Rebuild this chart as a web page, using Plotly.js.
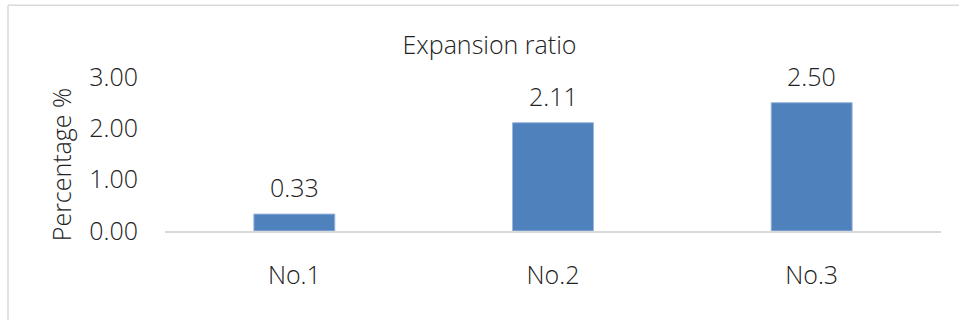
<!DOCTYPE html>
<html>
<head>
<meta charset="utf-8">
<script src="https://cdn.plot.ly/plotly-3.0.1.min.js"></script>
<style>
  html, body { margin: 0; padding: 0; background: #fff; }
  #chart { width: 959px; height: 320px; }
</style>
</head>
<body>
<div id="chart"></div>
<script>
// Expansion ratio per sample
const categories = ['No.1', 'No.2', 'No.3'];
const ratios = [0.33, 2.11, 2.50];
const yTicks = [0, 1, 2, 3];
const yTickLabels = ['0.00', '1.00', '2.00', '3.00'];

const W = 959, H = 320;
const plotLeft = 165, plotRight = 941;
const plotTop = 77, plotBottom = 230.6;
const plotW = plotRight - plotLeft;
const plotH = plotBottom - plotTop;

// pixel -> paper coordinates for the frame lines
const px = v => (v - plotLeft) / plotW;
const py = v => (plotBottom - v) / plotH;

const FONT = 'Open Sans, Noto Sans, sans-serif';
const TXT = '#222222';
const FS = 25;

const trace = {
  type: 'bar',
  x: categories,
  y: ratios,
  marker: { color: '#4F81BD', line: { color: '#9db7dc', width: 1 } },
  hoverinfo: 'skip'
};

// value labels above each bar
const valueLabels = categories.map((c, i) => ({
  x: c, y: ratios[i], xref: 'x', yref: 'y',
  text: ratios[i].toFixed(2),
  showarrow: false, yanchor: 'middle', yshift: 27,
  font: { family: FONT, size: FS, color: TXT, weight: 300 }
}));

const layout = {
  width: W, height: H,
  paper_bgcolor: '#fff', plot_bgcolor: '#fff',
  margin: { l: plotLeft, r: W - plotRight, t: plotTop, b: H - plotBottom, pad: 0 },
  showlegend: false,
  bargap: 0.687,
  title: {
    text: 'Expansion ratio',
    font: { family: FONT, size: FS, color: TXT, weight: 300 },
    x: 489.5 / W, xref: 'container', xanchor: 'center',
    y: 1 - 45 / H, yref: 'container', yanchor: 'middle'
  },
  xaxis: {
    type: 'category',
    showline: true, linecolor: '#d9d9d9', linewidth: 1.5,
    showgrid: false, zeroline: false, ticks: '',
    ticklabelstandoff: 21,
    tickfont: { family: FONT, size: FS, color: TXT, weight: 300 }
  },
  yaxis: {
    range: [0, 3],
    tickmode: 'array', tickvals: yTicks, ticktext: yTickLabels,
    showline: false, showgrid: false, zeroline: false, ticks: '',
    ticklabelstandoff: 26,
    tickfont: { family: FONT, size: FS, color: TXT, weight: 300 }
  },
  annotations: valueLabels.concat([{
    text: 'Percentage %',
    xref: 'paper', yref: 'paper',
    x: px(61), y: py(165), xanchor: 'center', yanchor: 'middle',
    textangle: -90, showarrow: false,
    font: { family: FONT, size: FS, color: TXT, weight: 300 }
  }]),
  shapes: [
    { type: 'line', xref: 'paper', yref: 'paper',
      x0: px(8), x1: px(W + 2), y0: py(5.5), y1: py(5.5),
      line: { color: '#d9d9d9', width: 1.5 } },
    { type: 'line', xref: 'paper', yref: 'paper',
      x0: px(8), x1: px(8), y0: py(5.5), y1: py(H + 2),
      line: { color: '#d9d9d9', width: 1.5 } }
  ]
};

Plotly.newPlot('chart', [trace], layout, { staticPlot: true, displayModeBar: false });
</script>
</body>
</html>
